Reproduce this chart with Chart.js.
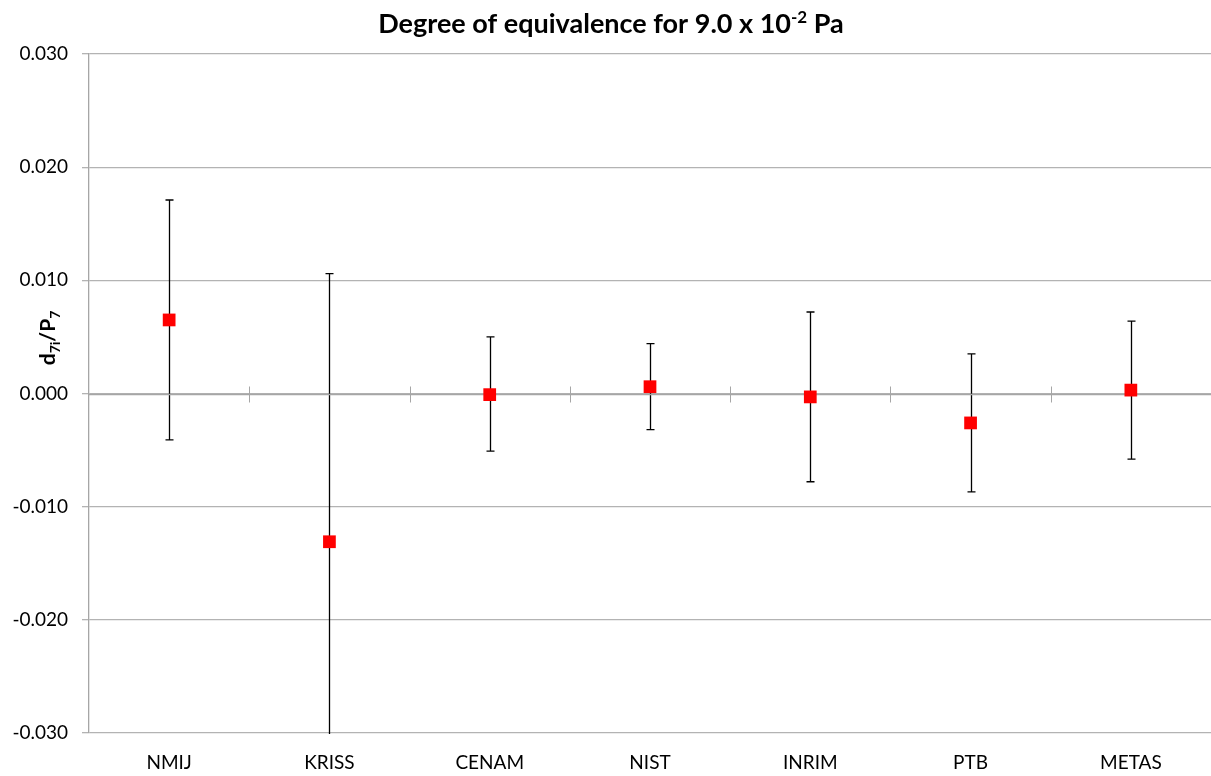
<!DOCTYPE html>
<html>
<head>
<meta charset="utf-8">
<title>Degree of equivalence</title>
<script src="https://cdn.jsdelivr.net/npm/chart.js@4/dist/chart.umd.min.js"></script>
<style>
    html, body { margin: 0; padding: 0; background: #fff; }
    #wrap { width: 1211px; height: 776px; position: relative; }
</style>
</head>
<body>
<div id="wrap"><canvas id="doeChart"></canvas></div>
<script>
// Laboratories and degrees of equivalence d7i/P7
const labs = ['NMIJ', 'KRISS', 'CENAM', 'NIST', 'INRIM', 'PTB', 'METAS'];
const doe = [0.0065, -0.0131, -0.0001, 0.0006, -0.0003, -0.0026, 0.0003];
const upper = [0.0171, 0.0106, 0.0050, 0.0044, 0.0072, 0.0035, 0.0064];
const lower = [-0.0041, -0.0368, -0.0051, -0.0032, -0.0078, -0.0087, -0.0058];
const yTicks = [-0.03, -0.02, -0.01, 0, 0.01, 0.02, 0.03];

const FONT = 'Lato, "Open Sans", sans-serif';

// error bars with caps, drawn behind the markers
const errorBars = {
    id: 'errorBars',
    beforeDatasetsDraw(chart) {
        const { ctx, chartArea, scales: { x, y } } = chart;
        ctx.save();
        ctx.beginPath();
        ctx.rect(chartArea.left, chartArea.top, chartArea.right - chartArea.left, chartArea.bottom - chartArea.top + 1);
        ctx.clip();
        ctx.strokeStyle = '#000';
        ctx.lineWidth = 1.3;
        labs.forEach((lab, i) => {
            const px = Math.round(x.getPixelForValue(i)) + 0.5;
            const top = y.getPixelForValue(upper[i]);
            const bot = y.getPixelForValue(lower[i]);
            ctx.beginPath();
            ctx.moveTo(px, top);
            ctx.lineTo(px, bot);
            ctx.moveTo(px - 4, top);
            ctx.lineTo(px + 4, top);
            ctx.moveTo(px - 4, bot);
            ctx.lineTo(px + 4, bot);
            ctx.stroke();
        });
        ctx.restore();
    }
};

// horizontal axis crossing at zero, with tick marks between categories
const zeroAxis = {
    id: 'zeroAxis',
    beforeDatasetsDraw(chart) {
        const { ctx, chartArea, scales: { x, y } } = chart;
        const py = Math.round(y.getPixelForValue(0)) + 0.5;
        ctx.save();
        ctx.strokeStyle = '#a6a6a6';
        ctx.lineWidth = 1.5;
        ctx.beginPath();
        ctx.moveTo(chartArea.left, py);
        ctx.lineTo(chartArea.right, py);
        ctx.stroke();
        ctx.lineWidth = 1;
        ctx.beginPath();
        for (let i = 1; i < labs.length; i++) {
            const bx = Math.round((x.getPixelForValue(i - 1) + x.getPixelForValue(i)) / 2) + 0.5;
            ctx.moveTo(bx, py - 8);
            ctx.lineTo(bx, py + 8);
        }
        ctx.stroke();
        ctx.restore();
    }
};

// title with superscript and rotated y-axis label with subscripts
const texts = {
    id: 'texts',
    afterDraw(chart) {
        const { ctx } = chart;
        ctx.save();
        ctx.fillStyle = '#000';
        ctx.textBaseline = 'alphabetic';

        const big = 'bold 27px ' + FONT;
        const small = 'bold 17px ' + FONT;
        const parts = [
            { t: 'Degree of equivalence for 9.0 x 10', f: big, dy: 0 },
            { t: '-2', f: small, dy: -10 },
            { t: ' Pa', f: big, dy: 0 }
        ];
        let w = 0;
        parts.forEach(p => { ctx.font = p.f; p.w = ctx.measureText(p.t).width; w += p.w; });
        let cx = 611 - w / 2;
        parts.forEach(p => { ctx.font = p.f; ctx.fillText(p.t, cx, 33 + p.dy); cx += p.w; });

        ctx.translate(55, 338);
        ctx.rotate(-Math.PI / 2);
        const yb = 'bold 21px ' + FONT;
        const ys = 'bold 14px ' + FONT;
        const yparts = [
            { t: 'd', f: yb, dy: 0 },
            { t: '7i', f: ys, dy: 5 },
            { t: '/P', f: yb, dy: 0 },
            { t: '7', f: ys, dy: 5 }
        ];
        w = 0;
        yparts.forEach(p => { ctx.font = p.f; p.w = ctx.measureText(p.t).width; w += p.w; });
        cx = -w / 2;
        yparts.forEach(p => { ctx.font = p.f; ctx.fillText(p.t, cx, p.dy); cx += p.w; });
        ctx.restore();
    }
};

const ctx = document.getElementById('doeChart');
new Chart(ctx, {
    type: 'line',
    data: {
        labels: labs,
        datasets: [{
            data: doe,
            showLine: false,
            pointStyle: 'rect',
            pointRadius: 9,
            pointHoverRadius: 9,
            pointBackgroundColor: '#ff0000',
            pointBorderColor: '#ff0000',
            pointBorderWidth: 0
        }]
    },
    options: {
        responsive: true,
        maintainAspectRatio: false,
        animation: false,
        layout: { autoPadding: false, padding: { top: 54, right: 0, left: 0, bottom: 0 } },
        plugins: {
            legend: { display: false },
            tooltip: { enabled: false },
            title: { display: false }
        },
        scales: {
            x: {
                offset: true,
                grid: { display: false },
                border: { display: false },
                ticks: {
                    color: '#000',
                    padding: 10,
                    font: { family: FONT, size: 19 }
                },
                afterFit(scale) { scale.height = 43; }
            },
            y: {
                min: -0.03,
                max: 0.03,
                afterBuildTicks(scale) { scale.ticks = yTicks.map(v => ({ value: v })); },
                grid: {
                    color: '#b3b3b3',
                    lineWidth: 1.3,
                    tickLength: 7
                },
                border: { color: '#a6a6a6', width: 1.3 },
                ticks: {
                    color: '#000',
                    padding: 14,
                    font: { family: FONT, size: 19 },
                    callback: v => v.toFixed(3)
                },
                afterFit(scale) { scale.width = 89; }
            }
        }
    },
    plugins: [errorBars, zeroAxis, texts]
});
</script>
</body>
</html>
